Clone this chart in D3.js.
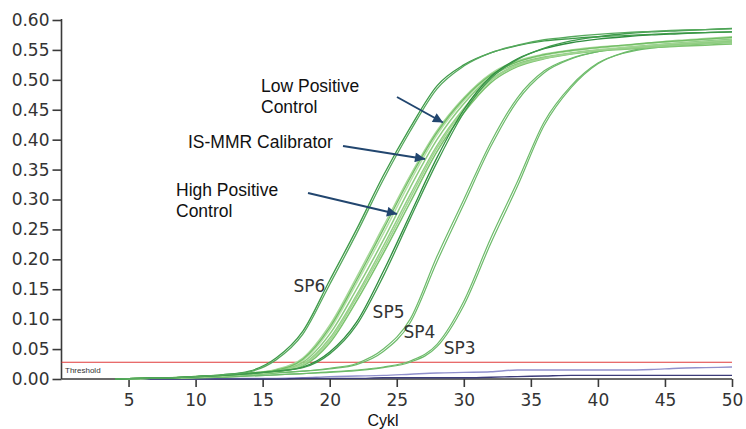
<!DOCTYPE html>
<html><head><meta charset="utf-8">
<script src="https://cdn.jsdelivr.net/npm/d3@7"></script>
<style>
html,body{margin:0;padding:0;background:#fff;}
svg{display:block;}
.tick text{font-family:"DejaVu Sans",sans-serif;fill:#333;}
</style></head>
<body>
<svg id="c" width="746" height="429"></svg>
<script>
// ---- data ----
const cycles = [4,6,8,10,12,14,16,18,20,22,24,26,28,30,32,34,36,38,40,42,44,46,48,50];
const xTicks = [5,10,15,20,25,30,35,40,45,50];
const yTicks = [0,0.05,0.10,0.15,0.20,0.25,0.30,0.35,0.40,0.45,0.50,0.55,0.60];
const threshold = 0.028;

const sp6a = [0,0.001,0.002,0.004,0.007,0.013,0.035,0.08,0.165,0.25,0.34,0.42,0.49,0.525,0.545,0.557,0.565,0.569,0.572,0.574,0.576,0.578,0.579,0.58];
const sp6b = [0,0.001,0.002,0.004,0.007,0.012,0.032,0.075,0.158,0.243,0.333,0.414,0.485,0.523,0.545,0.558,0.567,0.572,0.576,0.579,0.581,0.583,0.584,0.585];
const sp5a = [0,0.001,0.002,0.004,0.006,0.009,0.013,0.02,0.045,0.095,0.18,0.275,0.37,0.45,0.505,0.535,0.552,0.562,0.568,0.572,0.575,0.577,0.579,0.58];
const sp5b = [0,0.001,0.002,0.004,0.006,0.009,0.013,0.019,0.042,0.09,0.172,0.268,0.362,0.445,0.502,0.534,0.553,0.565,0.572,0.577,0.58,0.582,0.584,0.586];
const sp4a = [0,0.001,0.002,0.003,0.005,0.007,0.01,0.013,0.018,0.026,0.05,0.1,0.205,0.3,0.395,0.47,0.515,0.536,0.547,0.553,0.557,0.56,0.563,0.565];
const sp4b = [0,0.001,0.002,0.003,0.005,0.007,0.01,0.013,0.017,0.024,0.046,0.094,0.196,0.292,0.388,0.465,0.512,0.535,0.547,0.554,0.558,0.562,0.565,0.568];
const sp3a = [0,0.001,0.001,0.002,0.003,0.005,0.007,0.009,0.012,0.015,0.02,0.03,0.058,0.13,0.235,0.33,0.43,0.49,0.528,0.545,0.553,0.557,0.56,0.562];
const sp3b = [0,0.001,0.001,0.002,0.003,0.005,0.007,0.009,0.011,0.014,0.019,0.028,0.054,0.123,0.226,0.322,0.424,0.487,0.527,0.546,0.555,0.56,0.563,0.566];
const ctrl1 = [0,0.001,0.002,0.004,0.006,0.009,0.014,0.028,0.075,0.15,0.232,0.32,0.4,0.46,0.505,0.527,0.538,0.545,0.55,0.553,0.556,0.559,0.562,0.565];
const ctrl2 = [0,0.001,0.002,0.004,0.007,0.01,0.016,0.035,0.09,0.17,0.255,0.34,0.415,0.47,0.51,0.532,0.543,0.55,0.555,0.558,0.562,0.566,0.569,0.572];
const ctrl3 = [0,0.001,0.002,0.003,0.005,0.008,0.012,0.022,0.06,0.13,0.21,0.295,0.38,0.445,0.495,0.522,0.535,0.543,0.548,0.551,0.554,0.556,0.558,0.56];
const ctrl4 = [0,0.001,0.002,0.004,0.006,0.009,0.015,0.031,0.082,0.16,0.243,0.33,0.408,0.465,0.507,0.53,0.541,0.548,0.553,0.557,0.561,0.564,0.567,0.57];
const ctrl5 = [0,0.001,0.002,0.003,0.006,0.009,0.013,0.025,0.068,0.14,0.222,0.308,0.39,0.452,0.5,0.525,0.537,0.544,0.549,0.552,0.555,0.558,0.561,0.563];
const ctrl6 = [0,0.001,0.002,0.004,0.006,0.01,0.015,0.033,0.086,0.165,0.25,0.336,0.412,0.468,0.508,0.53,0.542,0.549,0.554,0.558,0.562,0.565,0.568,0.571];
const ctrl7 = [0,0.001,0.002,0.003,0.005,0.008,0.012,0.024,0.064,0.136,0.216,0.302,0.386,0.45,0.498,0.524,0.536,0.544,0.55,0.554,0.558,0.561,0.564,0.567];
const neg1 = [0,0,0,0,0.001,0.001,0.001,0.002,0.004,0.005,0.006,0.008,0.01,0.011,0.012,0.015,0.015,0.015,0.015,0.015,0.016,0.018,0.019,0.02];
const neg2 = [0,0,0,0,0,0,0,0.001,0.001,0.001,0.002,0.002,0.002,0.002,0.003,0.004,0.005,0.006,0.006,0.006,0.006,0.006,0.006,0.006];

const spLabels = [
  {t:"SP6", c:17.3, v:0.145},
  {t:"SP5", c:23.2, v:0.102},
  {t:"SP4", c:25.5, v:0.069},
  {t:"SP3", c:28.5, v:0.041}
];

// ---- chart ----
const svg = d3.select("#c");
const x = d3.scaleLinear().domain([0,50]).range([61.5,732]);
const y = d3.scaleLinear().domain([0,0.6]).range([379,20]);

const series = [
  {d:neg1, c:"#9090cc", w:1.4},
  {d:neg2, c:"#3c3c7a", w:1.4},
  {d:sp3a, c:"#6dbb6a", w:1.2},
  {d:sp3b, c:"#6dbb6a", w:1.2},
  {d:sp4a, c:"#6dbb6a", w:1.2},
  {d:sp4b, c:"#6dbb6a", w:1.2},
  {d:ctrl1, c:"#8ccb7e", w:1.5},
  {d:ctrl2, c:"#a7d899", w:1.5},
  {d:ctrl3, c:"#7cc36e", w:1.5},
  {d:ctrl4, c:"#b4dfa6", w:1.5},
  {d:ctrl5, c:"#94cf86", w:1.5},
  {d:ctrl6, c:"#70bd64", w:1.3},
  {d:ctrl7, c:"#a0d592", w:1.5},
  {d:sp5a, c:"#2f8d3f", w:1.3},
  {d:sp5b, c:"#3f9a4c", w:1.3},
  {d:sp6a, c:"#3d9a48", w:1.3},
  {d:sp6b, c:"#56a95d", w:1.3}
];

const line = d3.line().x((d,i)=>x(cycles[i])).y(d=>y(d)).curve(d3.curveMonotoneX);

// axes
const ya = svg.append("g").attr("transform","translate(61.5,0)")
  .call(d3.axisLeft(y).tickValues(yTicks).tickFormat(d3.format(".2f")).tickSize(9).tickSizeOuter(0).tickPadding(3));
const xa = svg.append("g").attr("transform","translate(0,379)")
  .call(d3.axisBottom(x).tickValues(xTicks).tickSize(8).tickSizeOuter(0).tickPadding(7));
[ya,xa].forEach(a=>{
  a.selectAll("path,line").attr("stroke","#3a3a3a").attr("stroke-width",1.6);
  a.selectAll("text").attr("font-size",17).attr("fill","#333");
});
ya.select(".domain").attr("d","M0,379V19");
xa.select(".domain").attr("d","M61.5,0H732");

// threshold
svg.append("line").attr("x1",x(0)).attr("x2",x(50)).attr("y1",y(threshold)).attr("y2",y(threshold))
  .attr("stroke","#e03a3a").attr("stroke-width",1.2);
svg.append("text").attr("x",65).attr("y",372.5).text("Threshold")
  .attr("font-family","Liberation Sans, Arial, sans-serif").attr("font-size",8).attr("fill","#333");

// curves
svg.append("g").selectAll("path").data(series).join("path")
  .attr("d",s=>line(s.d)).attr("fill","none").attr("stroke",s=>s.c).attr("stroke-width",s=>s.w);

// SP labels
svg.append("g").selectAll("text").data(spLabels).join("text")
  .attr("x",d=>x(d.c)).attr("y",d=>y(d.v)).text(d=>d.t)
  .attr("font-family","DejaVu Sans, sans-serif").attr("font-size",17).attr("fill","#333");

// annotations
const ann = svg.append("g").attr("font-family","Liberation Sans, Arial, sans-serif").attr("font-size",17.5).attr("fill","#111");
ann.append("text").attr("x",261).attr("y",92).text("Low Positive");
ann.append("text").attr("x",261).attr("y",113).text("Control");
ann.append("text").attr("x",188).attr("y",147.5).text("IS-MMR Calibrator");
ann.append("text").attr("x",176).attr("y",196).text("High Positive");
ann.append("text").attr("x",176).attr("y",217).text("Control");

svg.append("defs").append("marker").attr("id","ah").attr("viewBox","0 0 10 10")
  .attr("refX",10).attr("refY",5).attr("markerWidth",6).attr("markerHeight",5).attr("orient","auto")
  .attr("markerUnits","strokeWidth")
  .append("path").attr("d","M0,0L10,5L0,10Z").attr("fill","#22466f");
const arrows = [[397,97,443,122.5],[343,146,425,159],[308,193,397,214]];
svg.append("g").selectAll("line").data(arrows).join("line")
  .attr("x1",d=>d[0]).attr("y1",d=>d[1]).attr("x2",d=>d[2]).attr("y2",d=>d[3])
  .attr("stroke","#22466f").attr("stroke-width",2).attr("marker-end","url(#ah)");

// x title
svg.append("text").attr("x",383).attr("y",426).attr("text-anchor","middle").text("Cykl")
  .attr("font-family","Liberation Sans, Arial, sans-serif").attr("font-size",16).attr("fill","#111");
</script>
</body></html>
